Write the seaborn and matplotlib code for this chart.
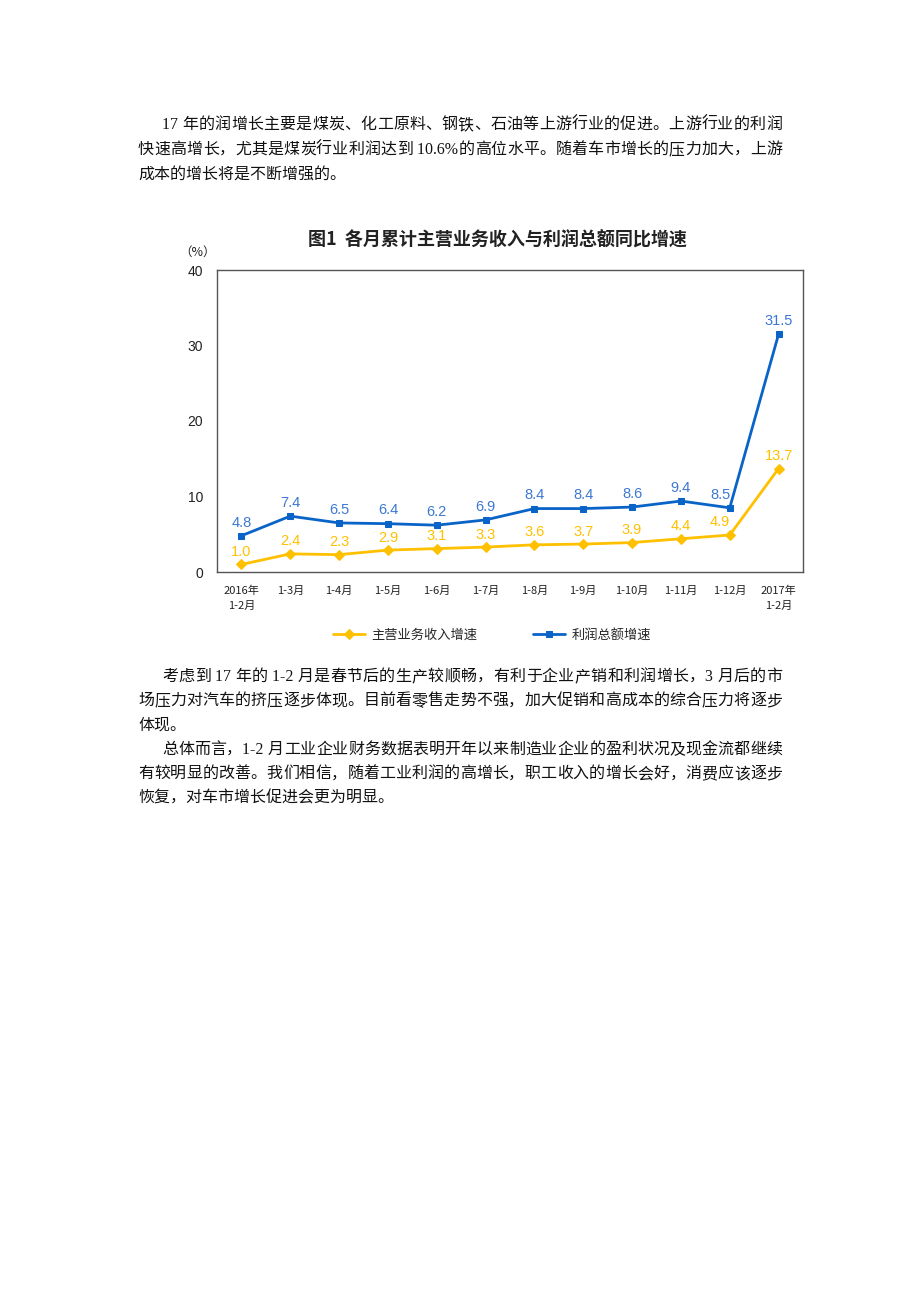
import pandas as pd
import matplotlib
matplotlib.use('Agg')
import matplotlib.pyplot as plt
import seaborn as sns

# data
months = ['2016年\n1-2月', '1-3月', '1-4月', '1-5月', '1-6月', '1-7月', '1-8月',
          '1-9月', '1-10月', '1-11月', '1-12月', '2017年\n1-2月']
revenue = [1.0, 2.4, 2.3, 2.9, 3.1, 3.3, 3.6, 3.7, 3.9, 4.4, 4.9, 13.7]
profit = [4.8, 7.4, 6.5, 6.4, 6.2, 6.9, 8.4, 8.4, 8.6, 9.4, 8.5, 31.5]
series_names = ['主营业务收入增速', '利润总额增速']
title = '图1  各月累计主营业务收入与利润总额同比增速'

para1 = ['17 年的润增长主要是煤炭、化工原料、钢铁、石油等上游行业的促进。上游行业的利润',
         '快速高增长，尤其是煤炭行业利润达到 10.6%的高位水平。随着车市增长的压力加大，上游',
         '成本的增长将是不断增强的。']
para2 = ['考虑到 17 年的 1-2 月是春节后的生产较顺畅，有利于企业产销和利润增长，3 月后的市',
         '场压力对汽车的挤压逐步体现。目前看零售走势不强，加大促销和高成本的综合压力将逐步',
         '体现。']
para3 = ['总体而言，1-2 月工业企业财务数据表明开年以来制造业企业的盈利状况及现金流都继续',
         '有较明显的改善。我们相信，随着工业利润的高增长，职工收入的增长会好，消费应该逐步',
         '恢复，对车市增长促进会更为明显。']

sns.set_style('white')
plt.rcParams['font.family'] = ['Noto Sans CJK SC', 'DejaVu Sans']

W, H = 920, 1302
fig = plt.figure(figsize=(W / 100, H / 100), dpi=100)
renderer = fig.canvas.get_renderer()

body_font = ['Liberation Serif', 'Noto Sans CJK SC']
BLUE = '#0A64C8'
BLUE_LBL = '#3C78D2'
YEL = '#FFC000'


def fx(x):
    return x / W


def fy(y):
    return 1 - y / H


def tokens(s):
    out = []
    buf = ''
    for ch in s:
        if ord(ch) < 128:
            buf += ch
        else:
            if buf:
                out.append(buf)
                buf = ''
            out.append(ch)
    if buf:
        out.append(buf)
    return out


def line(s, x0, y, x1=None):
    # justified line of body text (x1=None -> left aligned)
    if x1 is None:
        fig.text(fx(x0), fy(y), s, family=body_font, fontsize=11.5, va='center', ha='left', color='#111111')
        return
    parts = tokens(s)
    objs = []
    widths = []
    for p in parts:
        t = fig.text(0, fy(y), p, family=body_font, fontsize=11.5, va='center', ha='left', color='#111111')
        objs.append(t)
        widths.append(t.get_window_extent(renderer).width)
    gap = (x1 - x0 - sum(widths)) / max(len(parts) - 1, 1)
    x = x0
    for t, w in zip(objs, widths):
        t.set_x(fx(x))
        x += w + gap


def paragraph(lines, y0, step):
    for i, s in enumerate(lines):
        x0 = 162 if i == 0 else 138
        x1 = 782 if i < len(lines) - 1 else None
        line(s, x0, y0 + i * step, x1)


paragraph(para1, 125, 25)
paragraph(para2, 677, 24.2)
paragraph(para3, 750, 24.2)

# chart
ax = fig.add_axes([fx(217), fy(572), (803 - 217) / W, (572 - 270) / H])
x = list(range(len(months)))
df = pd.DataFrame({'x': x, 'revenue': revenue, 'profit': profit})
sns.lineplot(data=df, x='x', y='revenue', ax=ax, color=YEL, lw=2, marker='D', markersize=5,
             markeredgecolor=YEL, label=series_names[0])
sns.lineplot(data=df, x='x', y='profit', ax=ax, color=BLUE, lw=2, marker='s', markersize=4.5,
             markeredgecolor=BLUE, label=series_names[1])

lbl_font = ['Liberation Sans', 'DejaVu Sans']
for xi, v in zip(x, revenue):
    dx = -7 if xi == 10 else 0
    ax.annotate(f'{v:.1f}', (xi, v), xytext=(dx, 4), textcoords='offset points', ha='center',
                va='bottom', color=YEL, fontsize=10.5, family=lbl_font)
for xi, v in zip(x, profit):
    dx = -7 if xi == 10 else 0
    ax.annotate(f'{v:.1f}', (xi, v), xytext=(dx, 4.5), textcoords='offset points', ha='center',
                va='bottom', color=BLUE_LBL, fontsize=10.5, family=lbl_font)

ax.set_xlim(-0.5, len(months) - 0.5)
ax.set_ylim(0, 40)
ax.set_yticks([0, 10, 20, 30, 40])
ax.set_xticks(x)
ax.set_xticklabels(months, fontsize=8, color='#222222', linespacing=1.6)
ax.set_xticks([i + 0.5 for i in x[:-1]], minor=True)
ax.tick_params(axis='x', which='major', length=0, pad=10)
ax.tick_params(axis='x', which='minor', direction='in', length=4, color='#444444', width=0.8)
ax.tick_params(axis='y', direction='in', length=4, color='#444444', width=0.8,
               labelsize=10, pad=10, labelcolor='#222222')
for lbl in ax.get_yticklabels():
    lbl.set_family(lbl_font)
for sp in ax.spines.values():
    sp.set_color('#555555')
    sp.set_linewidth(1)
ax.set_xlabel('')
ax.set_ylabel('')

fig.text(fx(198), fy(252), '（%）', fontsize=9, ha='center', va='center', color='#222222')
fig.text(fx(497), fy(240), title, fontsize=13, fontweight='bold', ha='center', va='center', color='#222222')

ax.legend(loc='center', bbox_to_anchor=(fx(492), fy(635)), bbox_transform=fig.transFigure,
          ncol=2, frameon=False, fontsize=9.5, handlelength=2.4, columnspacing=4.2,
          handletextpad=0.5)

fig.savefig('out.png', dpi=100, facecolor='white')
